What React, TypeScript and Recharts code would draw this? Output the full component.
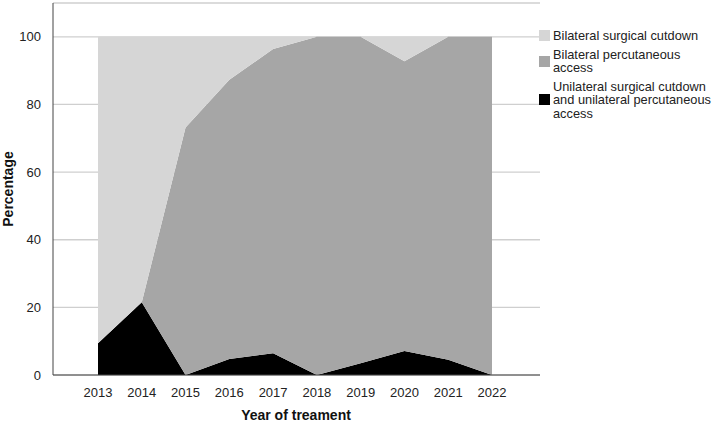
import React from 'react';
import { AreaChart, Area, XAxis, YAxis, CartesianGrid } from 'recharts';

const years = ['2013', '2014', '2015', '2016', '2017', '2018', '2019', '2020', '2021', '2022'];
// percent of patients per year
const unilateral = [9.4, 21.5, 0, 4.7, 6.4, 0, 3.5, 7.1, 4.5, 0];
const percutaneous = [0, 0, 73.2, 82.6, 90.0, 100, 96.5, 85.7, 95.5, 100];
const surgical = [90.6, 78.5, 26.8, 12.7, 3.6, 0, 0, 7.2, 0, 0];
const yTicks = [0, 20, 40, 60, 80, 100];

const SERIES = [
  { key: 'surgical', name: 'Bilateral surgical cutdown', color: '#d6d6d6', lines: ['Bilateral surgical cutdown'] },
  { key: 'percutaneous', name: 'Bilateral percutaneous access', color: '#a6a6a6', lines: ['Bilateral percutaneous', 'access'] },
  {
    key: 'unilateral',
    name: 'Unilateral surgical cutdown and unilateral percutaneous access',
    color: '#000000',
    lines: ['Unilateral surgical cutdown', 'and unilateral percutaneous', 'access'],
  },
];

const FONT = '"Liberation Sans", Arial, Helvetica, sans-serif';

const LegendBox = () => (
  <div
    style={{
      position: 'absolute',
      left: 539,
      top: 29,
      fontFamily: FONT,
      fontSize: 12.8,
      color: '#222',
      lineHeight: '13.5px',
      whiteSpace: 'nowrap',
    }}
  >
    {SERIES.map((s) => (
      <div key={s.key} style={{ display: 'flex', alignItems: 'center', marginBottom: 5 }}>
        <div style={{ width: 11, height: 11, background: s.color, marginRight: 3, flexShrink: 0 }} />
        <div>
          {s.lines.map((l) => (
            <div key={l}>{l}</div>
          ))}
        </div>
      </div>
    ))}
  </div>
);

const App = () => {
  const data = years.map((year, i) => ({
    year,
    unilateral: unilateral[i],
    percutaneous: percutaneous[i],
    surgical: surgical[i],
  }));

  return (
    <div style={{ position: 'absolute', left: 0, top: 0, width: 712, height: 423, background: '#fff' }}>
      <AreaChart width={712} height={423} data={data} margin={{ top: 3, right: 172, left: 0, bottom: 18 }}>
        <CartesianGrid vertical={false} stroke="#cfcfcf" strokeWidth={1.3} />
        <XAxis
          dataKey="year"
          interval={0}
          padding={{ left: 45, right: 48 }}
          axisLine={{ stroke: '#444' }}
          tickLine={false}
          tickMargin={7}
          height={30}
          tick={{ fill: '#222', fontSize: 13, fontFamily: FONT }}
          label={{
            content: () => (
              <text x={296} y={420} textAnchor="middle" fontFamily={FONT} fontSize={14} fontWeight="bold" fill="#111">
                Year of treament
              </text>
            ),
          }}
        />
        <YAxis
          domain={[0, 110]}
          ticks={yTicks}
          width={53}
          axisLine={{ stroke: '#444' }}
          tickLine={false}
          tickMargin={6}
          tick={{ fill: '#222', fontSize: 13, fontFamily: FONT }}
          label={{
            content: () => (
              <text
                x={13}
                y={189}
                transform="rotate(-90 13 189)"
                textAnchor="middle"
                fontFamily={FONT}
                fontSize={14}
                fontWeight="bold"
                fill="#111"
              >
                Percentage
              </text>
            ),
          }}
        />
        <Area type="linear" dataKey="unilateral" name={SERIES[2].name} stackId="a" stroke="none" fill="#000000" fillOpacity={1} isAnimationActive={false} />
        <Area type="linear" dataKey="percutaneous" name={SERIES[1].name} stackId="a" stroke="none" fill="#a6a6a6" fillOpacity={1} isAnimationActive={false} />
        <Area type="linear" dataKey="surgical" name={SERIES[0].name} stackId="a" stroke="none" fill="#d6d6d6" fillOpacity={1} isAnimationActive={false} />
      </AreaChart>
      <LegendBox />
    </div>
  );
};

export default App;
